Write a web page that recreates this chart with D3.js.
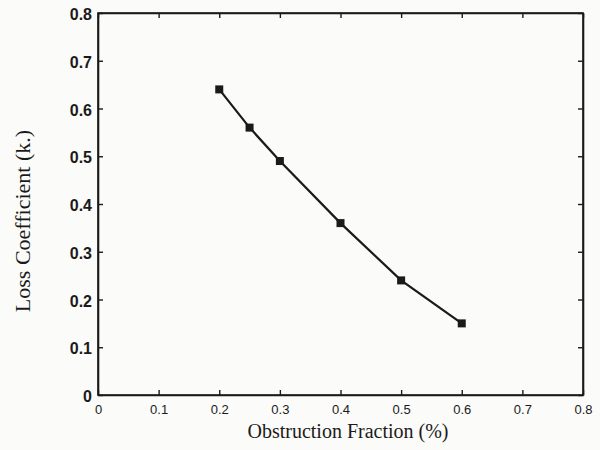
<!DOCTYPE html>
<html>
<head>
<meta charset="utf-8">
<script src="https://cdn.jsdelivr.net/npm/d3@7/dist/d3.min.js"></script>
<style>
  html, body { margin: 0; padding: 0; background: #fbfbf9; }
  svg { display: block; }
</style>
</head>
<body>
<svg id="chart" width="600" height="450"></svg>
<script>
// Loss coefficient versus obstruction fraction
const obstruction = [0.2, 0.25, 0.3, 0.4, 0.5, 0.6];
const lossCoeff   = [0.64, 0.56, 0.49, 0.36, 0.24, 0.15];
const xTicks = [0, 0.1, 0.2, 0.3, 0.4, 0.5, 0.6, 0.7, 0.8];
const yTicks = [0, 0.1, 0.2, 0.3, 0.4, 0.5, 0.6, 0.7, 0.8];
const xTitle = "Obstruction Fraction (%)";
const yTitle = "Loss Coefficient (k.)";

const svg = d3.select("#chart");
const margin = { left: 98, right: 17, top: 13, bottom: 55 };
const W = 600, H = 450;
const x = d3.scaleLinear().domain([0, 0.8]).range([margin.left, W - margin.right]);
const y = d3.scaleLinear().domain([0, 0.8]).range([H - margin.bottom, margin.top]);
const ink = "#1a1a1a";
const fmt = d => d === 0 ? "0" : d3.format(".1f")(d);

// plot frame
svg.append("rect")
  .attr("x", x(0)).attr("y", y(0.8))
  .attr("width", x(0.8) - x(0)).attr("height", y(0) - y(0.8))
  .attr("fill", "none").attr("stroke", ink).attr("stroke-width", 1.6);

// axes with inward ticks
const axisB = svg.append("g").attr("transform", `translate(0,${y(0)})`)
  .call(d3.axisBottom(x).tickValues(xTicks).tickFormat(fmt).tickSizeInner(-5).tickSizeOuter(0).tickPadding(10));
const axisT = svg.append("g").attr("transform", `translate(0,${y(0.8)})`)
  .call(d3.axisTop(x).tickValues(xTicks).tickFormat("").tickSizeInner(-5).tickSizeOuter(0));
const axisL = svg.append("g").attr("transform", `translate(${x(0)},0)`)
  .call(d3.axisLeft(y).tickValues(yTicks).tickFormat(fmt).tickSizeInner(-5).tickSizeOuter(0).tickPadding(6));
const axisR = svg.append("g").attr("transform", `translate(${x(0.8)},0)`)
  .call(d3.axisRight(y).tickValues(yTicks).tickFormat("").tickSizeInner(-5).tickSizeOuter(0));

[axisB, axisT, axisL, axisR].forEach(g => {
  g.select(".domain").attr("stroke", ink).attr("stroke-width", 1.6);
  g.selectAll(".tick line").attr("stroke", ink).attr("stroke-width", 1.4);
});
axisB.selectAll(".tick text")
  .attr("font-family", "Liberation Sans, Arial, sans-serif")
  .attr("font-size", 13).attr("fill", ink);
axisL.selectAll(".tick text")
  .attr("font-family", "Liberation Sans, Arial, sans-serif")
  .attr("font-size", 16).attr("font-weight", "bold").attr("fill", ink)
  .attr("dy", "0.42em");

// axis titles
svg.append("text")
  .attr("x", 348).attr("y", 438)
  .attr("text-anchor", "middle")
  .attr("font-family", "Liberation Serif, Times New Roman, serif")
  .attr("font-size", 20).attr("fill", ink)
  .text(xTitle);
svg.append("text")
  .attr("transform", "translate(30,221) rotate(-90)")
  .attr("text-anchor", "middle")
  .attr("font-family", "Liberation Serif, Times New Roman, serif")
  .attr("font-size", 22).attr("fill", ink)
  .text(yTitle);

// data line and square markers
const pts = obstruction.map((v, i) => [v, lossCoeff[i]]);
svg.append("path")
  .datum(pts)
  .attr("d", d3.line().x(d => x(d[0])).y(d => y(d[1])))
  .attr("fill", "none").attr("stroke", ink).attr("stroke-width", 2.2);
svg.selectAll("rect.pt").data(pts).join("rect")
  .attr("class", "pt")
  .attr("x", d => x(d[0]) - 4).attr("y", d => y(d[1]) - 4)
  .attr("width", 8).attr("height", 8)
  .attr("fill", ink);
</script>
</body>
</html>
